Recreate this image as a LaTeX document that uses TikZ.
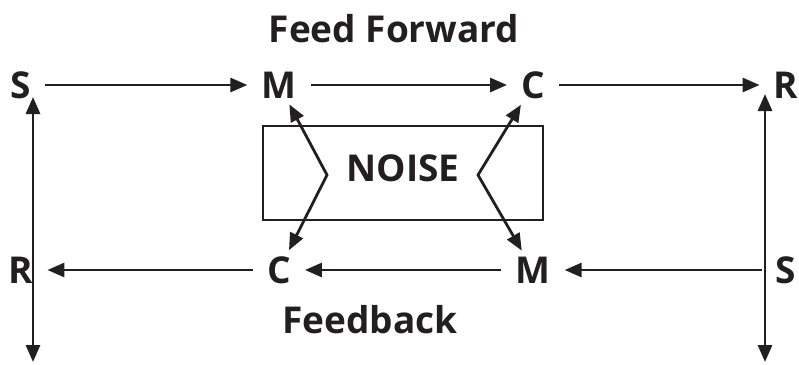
\documentclass[tikz,border=0pt]{standalone}
\usepackage{fontspec}
\setmainfont{Open Sans}
\usetikzlibrary{arrows.meta}
\definecolor{ink}{HTML}{231F20}
\tikzset{
	lbl/.style={text=ink, font=\fontsize{37}{40}\selectfont\bfseries, inner xsep=14pt, inner ysep=6pt},
	title/.style={text=ink, font=\fontsize{37}{40}\selectfont\bfseries, inner sep=0pt},
	flow/.style={draw=ink, line width=2.8pt, -{Triangle[length=17pt,width=14pt]}},
	both/.style={draw=ink, line width=2.8pt, {Triangle[length=17pt,width=14pt]}-{Triangle[length=17pt,width=14pt]}},
	box/.style={draw=ink, line width=2.4pt, minimum width=280pt, minimum height=94pt, inner sep=0pt}
}
\begin{document}
\begin{tikzpicture}[x=1pt, y=-1pt]
		\useasboundingbox (0,0) rectangle (799,364);
		
		% titoli
		\node[title] (ff) at (394,29) {Feed Forward};
		\node[title] (fb) at (370,320) {Feedback};
		
		% riga in alto
		\node[lbl] (sTop) at (21,85) {S};
		\node[lbl] (mTop) at (279,85) {M};
		\node[lbl] (cTop) at (533,85) {C};
		\node[lbl] (rTop) at (786,85) {R};
		
		% riga in basso
		\node[lbl] (rBot) at (21,270) {R};
		\node[lbl] (cBot) at (279,270) {C};
		\node[lbl] (mBot) at (533,270) {M};
		\node[lbl] (sBot) at (786,270) {S};
		
		% rumore
		\node[box] (noise) at (403,173) {};
		\node[title, yshift=5pt] (noiseTxt) at (noise) {NOISE};
		\coordinate (nL) at (327,175);
		\coordinate (nR) at (478,175);
		
		% frecce orizzontali
		\draw[flow] (sTop) -- (mTop);
		\draw[flow] (mTop) -- (cTop);
		\draw[flow] (cTop) -- (rTop);
		\draw[flow] (sBot) -- (mBot);
		\draw[flow] (mBot) -- (cBot);
		\draw[flow] (cBot) -- (rBot);
		
		% frecce verticali
		\coordinate (lTop) at (33,97);
		\coordinate (lBot) at (33,362);
		\coordinate (rtTop) at (765,94);
		\coordinate (rtBot) at (765,362);
		\draw[both] (lTop) -- (lBot);
		\draw[both] (rtTop) -- (rtBot);
		
		% frecce del rumore
		\draw[both] (mTop) -- (nL) -- (cBot);
		\draw[both] (cTop) -- (nR) -- (mBot);
		
	\end{tikzpicture}
\end{document}
